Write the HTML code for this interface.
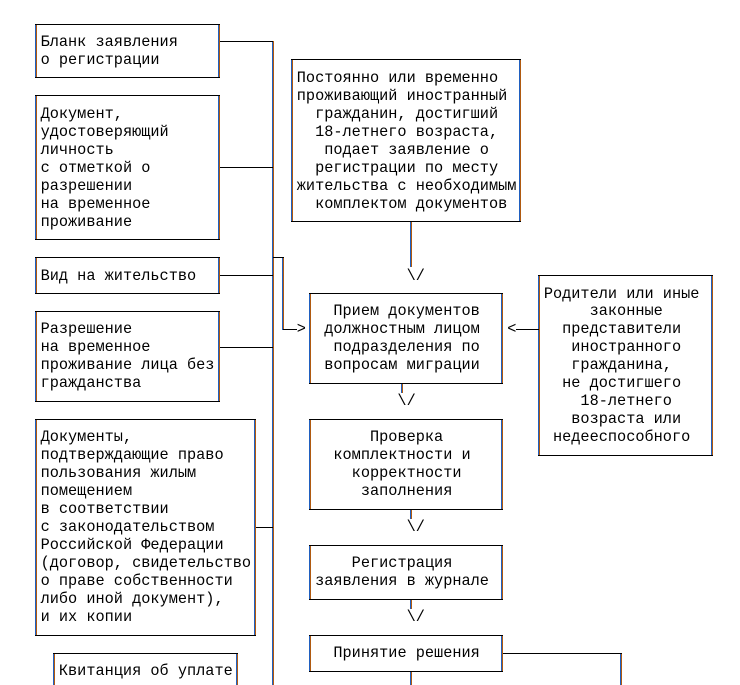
<!DOCTYPE html>
<html><head><meta charset="utf-8">
<style>
html,body{margin:0;padding:0;background:#fff;}
#c{position:relative;width:740px;height:685px;overflow:hidden;background:#fff;}
svg{position:absolute;left:0;top:0;}
.t{position:absolute;white-space:pre;font-family:"Liberation Mono","DejaVu Sans Mono",monospace;font-size:15.25px;line-height:17.98px;color:#000;margin:0;}
</style></head><body>
<div id="c">
<svg width="740" height="685" viewBox="0 0 740 685" shape-rendering="crispEdges">
<defs>
<g id="vl" fill="none" stroke-width="1">
<!-- box1 -->
<path d="M35.5 24V78 M218.5 24V78"/>
<!-- box2 -->
<path d="M35.5 95V240 M218.5 95V240"/>
<!-- box3 -->
<path d="M35.5 257V294 M218.5 257V294"/>
<!-- box4 -->
<path d="M35.5 311V402 M218.5 311V402"/>
<!-- box5 -->
<path d="M35.5 419V636 M254.5 419V636"/>
<!-- box6 -->
<path d="M53.5 653V690 M236.5 653V690"/>
<!-- box7 -->
<path d="M291.5 59V222 M519.5 59V222"/>
<!-- box8 -->
<path d="M309.5 293V384 M501.5 293V384"/>
<!-- box9 -->
<path d="M538.5 275V456 M711.5 275V456"/>
<!-- box10 -->
<path d="M309.5 419V510 M501.5 419V510"/>
<!-- box11 -->
<path d="M309.5 545V600 M501.5 545V600"/>
<!-- box12 -->
<path d="M309.5 635V672 M501.5 635V672"/>
<!-- main vertical -->
<path d="M272.5 41V690"/>
<!-- branch -->
<path d="M282.5 257V330"/>
<!-- arrows stems -->
<path d="M410.5 221V267"/>
<path d="M401.5 383V393"/>
<path d="M410.5 509V519"/>
<path d="M410.5 599V609"/>
<path d="M410.5 671V690"/>
<path d="M620.5 653V690"/>
</g>
</defs>
<use href="#vl" stroke="#2060c0"/>
<use href="#vl" stroke="#b05a10" x="1"/>
<g fill="none" stroke="#000" stroke-width="1">
<!-- box horizontals -->
<path d="M35 24.5H220 M35 77.5H220"/>
<path d="M35 95.5H220 M35 239.5H220"/>
<path d="M35 257.5H220 M35 293.5H220"/>
<path d="M35 311.5H220 M35 401.5H220"/>
<path d="M35 419.5H256 M35 635.5H256"/>
<path d="M53 653.5H238"/>
<path d="M291 59.5H521 M291 221.5H521"/>
<path d="M309 293.5H503 M309 383.5H503"/>
<path d="M538 275.5H713 M538 455.5H713"/>
<path d="M309 419.5H503 M309 509.5H503"/>
<path d="M309 545.5H503 M309 599.5H503"/>
<path d="M309 635.5H503 M309 671.5H503"/>
<!-- connectors -->
<path d="M220 41.5H273 M220 167.5H273 M220 275.5H273 M220 347.5H273 M256 527.5H273"/>
<path d="M273 257.5H284"/>
<path d="M283 329.5H297"/>
<path d="M516 329.5H539"/>
<path d="M503 653.5H622"/>
</g>
</svg>

<div class="t" style="left:40.58px;top:32.78px">Бланк заявления
о регистрации</div>

<div class="t" style="left:40.58px;top:104.7px">Документ,
удостоверяющий
личность
с отметкой о
разрешении
на временное
проживание</div>

<div class="t" style="left:40.58px;top:266.52px">Вид на жительство</div>

<div class="t" style="left:40.58px;top:320.46px">Разрешение
на временное
проживание лица без
гражданства</div>

<div class="t" style="left:40.58px;top:428.34px">Документы,
подтверждающие право
пользования жилым
помещением
в соответствии
с законодательством
Российской Федерации
(договор, свидетельство
о праве собственности
либо иной документ),
и их копии</div>

<div class="t" style="left:58.88px;top:662.08px">Квитанция об уплате</div>

<div class="t" style="left:296.78px;top:68.74px">Постоянно или временно
проживающий иностранный
  гражданин, достигший
  18-летнего возраста,
   подает заявление о
  регистрации по месту
жительства с необходимым
  комплектом документов</div>

<div class="t" style="left:315.08px;top:302.48px">  Прием документов
 должностным лицом
  подразделения по
 вопросам миграции</div>

<div class="t" style="left:543.83px;top:284.5px">Родители или иные
     законные
  представители
   иностранного
   гражданина,
  не достигшего
    18-летнего
   возраста или
 недееспособного</div>

<div class="t" style="left:315.08px;top:428.34px">      Проверка
  комплектности и
    корректности
     заполнения</div>

<div class="t" style="left:315.08px;top:554.2px">    Регистрация
заявления в журнале</div>

<div class="t" style="left:315.08px;top:644.1px">  Принятие решения</div>

<div class="t" style="left:296.78px;top:320.46px">&gt;</div>
<div class="t" style="left:507.23px;top:320.46px">&lt;</div>

<div class="t" style="left:406.58px;top:266.52px">\/</div>
<div class="t" style="left:397.43px;top:392.38px">\/</div>
<div class="t" style="left:406.58px;top:518.24px">\/</div>
<div class="t" style="left:406.58px;top:608.14px">\/</div>
</div>
</body></html>
